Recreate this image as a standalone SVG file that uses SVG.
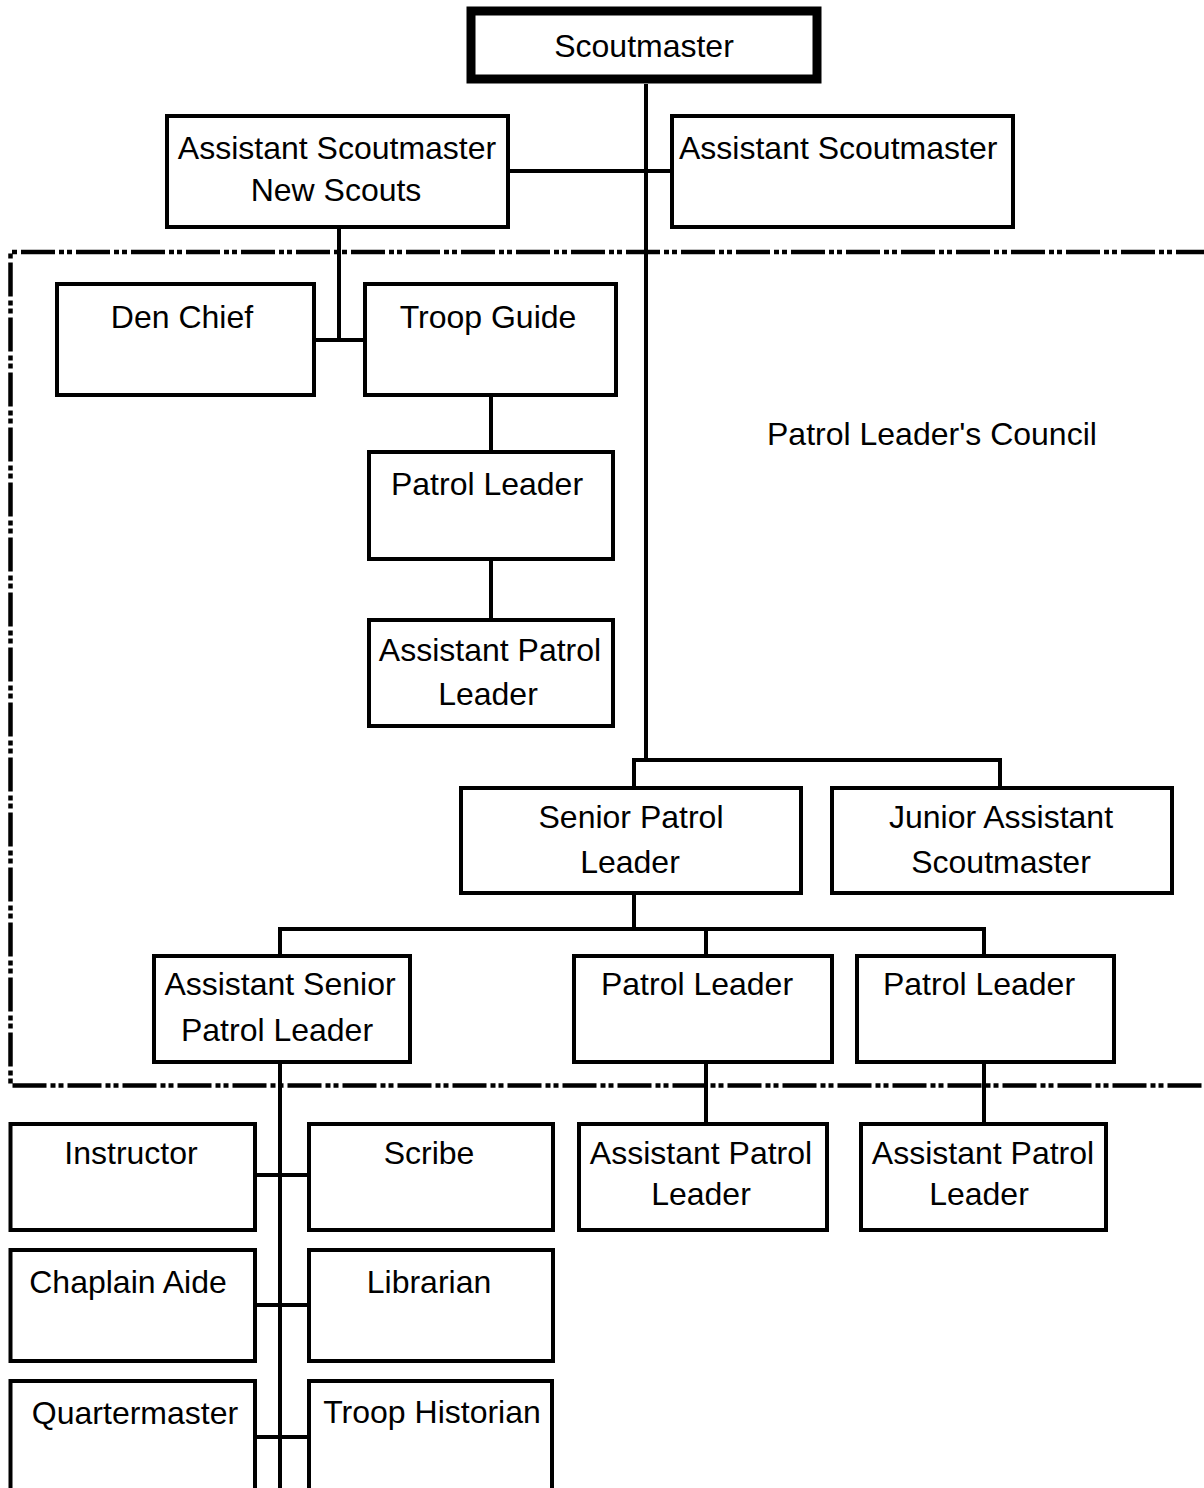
<svg xmlns="http://www.w3.org/2000/svg" width="1204" height="1488" viewBox="0 0 1204 1488">
<style>
.b{fill:#fff;stroke:#000;stroke-width:4}
.t{font-family:"Liberation Sans",Arial,sans-serif;font-size:32px;fill:#000;text-anchor:middle}
.c{stroke:#000;stroke-width:4;fill:none}
.d{stroke:#000;stroke-width:4.5;fill:none;stroke-dasharray:34 4 5 3 5 4}
</style>
<rect width="1204" height="1488" fill="#fff"/>
<g id="council-border">
<path class="d" d="M1210,252 H10.5 V1085.5 H1210"/>
<text class="t" x="767" y="445" style="text-anchor:start">Patrol Leader's Council</text>
</g>
<g id="connectors">
<path class="c" d="M646,84 V760"/>
<path class="c" d="M508,171 H672"/>
<path class="c" d="M339,227 V340 M314,340 H365"/>
<path class="c" d="M491,395 V452 M491,559 V620"/>
<path class="c" d="M634,788 V760 H1000 V788"/>
<path class="c" d="M634,893 V929 M280,956 V929 H984 V956 M706,929 V956"/>
<path class="c" d="M280,1062 V1488"/>
<path class="c" d="M255,1175 H309 M255,1305 H309 M255,1437 H309"/>
<path class="c" d="M706,1062 V1124 M984,1062 V1124"/>
</g>
<g id="scoutmaster">
<rect x="471" y="11" width="346" height="68" fill="#fff" stroke="#000" stroke-width="9"/>
<text class="t" x="644" y="57">Scoutmaster</text>
</g>
<g id="asm-new-scouts">
<rect class="b" x="167" y="116" width="341" height="111"/>
<text class="t" x="337" y="159">Assistant Scoutmaster</text>
<text class="t" x="336" y="201">New Scouts</text>
</g>
<g id="asm">
<rect class="b" x="672" y="116" width="341" height="111"/>
<text class="t" x="679" y="159" style="text-anchor:start">Assistant Scoutmaster</text>
</g>
<g id="den-chief">
<rect class="b" x="57" y="284" width="257" height="111"/>
<text class="t" x="182" y="328">Den Chief</text>
</g>
<g id="troop-guide">
<rect class="b" x="365" y="284" width="251" height="111"/>
<text class="t" x="488" y="328">Troop Guide</text>
</g>
<g id="patrol-leader-1">
<rect class="b" x="369" y="452" width="244" height="107"/>
<text class="t" x="487" y="495">Patrol Leader</text>
</g>
<g id="apl-1">
<rect class="b" x="369" y="620" width="244" height="106"/>
<text class="t" x="490" y="661">Assistant Patrol</text>
<text class="t" x="488" y="705">Leader</text>
</g>
<g id="spl">
<rect class="b" x="461" y="788" width="340" height="105"/>
<text class="t" x="631" y="828">Senior Patrol</text>
<text class="t" x="630" y="873">Leader</text>
</g>
<g id="jasm">
<rect class="b" x="832" y="788" width="340" height="105"/>
<text class="t" x="1001" y="828">Junior Assistant</text>
<text class="t" x="1001" y="873">Scoutmaster</text>
</g>
<g id="aspl">
<rect class="b" x="154" y="956" width="256" height="106"/>
<text class="t" x="280" y="995">Assistant Senior</text>
<text class="t" x="277" y="1041">Patrol Leader</text>
</g>
<g id="patrol-leader-2">
<rect class="b" x="574" y="956" width="258" height="106"/>
<text class="t" x="697" y="995">Patrol Leader</text>
</g>
<g id="patrol-leader-3">
<rect class="b" x="857" y="956" width="257" height="106"/>
<text class="t" x="979" y="995">Patrol Leader</text>
</g>
<g id="instructor">
<rect class="b" x="10.5" y="1124" width="244.5" height="106"/>
<text class="t" x="131" y="1164">Instructor</text>
</g>
<g id="scribe">
<rect class="b" x="309" y="1124" width="244" height="106"/>
<text class="t" x="429" y="1164">Scribe</text>
</g>
<g id="apl-2">
<rect class="b" x="579" y="1124" width="248" height="106"/>
<text class="t" x="701" y="1164">Assistant Patrol</text>
<text class="t" x="701" y="1205">Leader</text>
</g>
<g id="apl-3">
<rect class="b" x="861" y="1124" width="245" height="106"/>
<text class="t" x="983" y="1164">Assistant Patrol</text>
<text class="t" x="979" y="1205">Leader</text>
</g>
<g id="chaplain-aide">
<rect class="b" x="10.5" y="1250" width="244.5" height="111"/>
<text class="t" x="128" y="1293">Chaplain Aide</text>
</g>
<g id="librarian">
<rect class="b" x="309" y="1250" width="244" height="111"/>
<text class="t" x="429" y="1293">Librarian</text>
</g>
<g id="quartermaster">
<rect class="b" x="10.5" y="1381" width="244.5" height="130"/>
<text class="t" x="135" y="1424">Quartermaster</text>
</g>
<g id="troop-historian">
<rect class="b" x="309" y="1381" width="243" height="130"/>
<text class="t" x="432" y="1423">Troop Historian</text>
</g>
</svg>
